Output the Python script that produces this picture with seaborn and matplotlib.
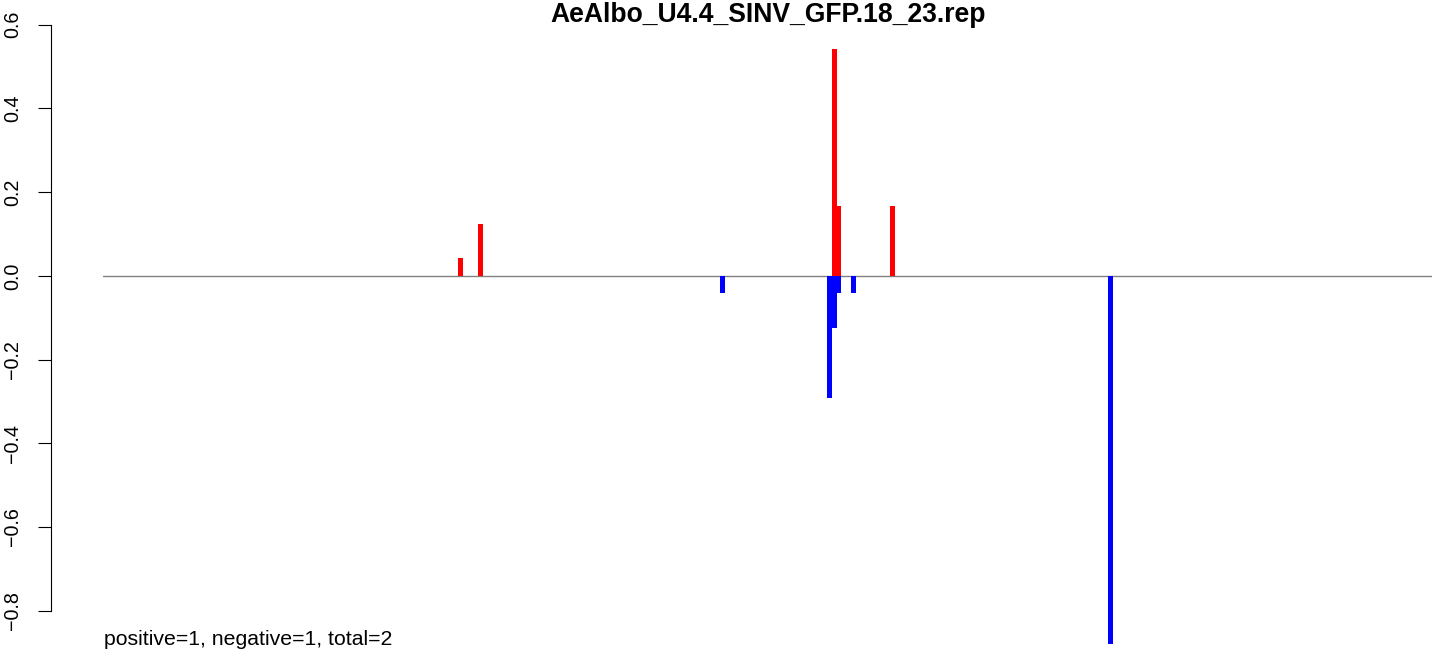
import matplotlib
matplotlib.use("Agg")
import matplotlib.pyplot as plt
import seaborn as sns
import pandas as pd

# ---- data ----
title = "AeAlbo_U4.4_SINV_GFP.18_23.rep"
pos_positions = [73, 77, 150, 151, 162]
pos_values = [0.0417, 0.125, 0.5417, 0.1667, 0.1667]
neg_positions = [127, 149, 150, 151, 154, 207]
neg_values = [-0.0417, -0.2917, -0.125, -0.0417, -0.0417, -0.88]
y_ticks = [-0.8, -0.6, -0.4, -0.2, 0.0, 0.2, 0.4, 0.6]
footer = "positive=1, negative=1, total=2"
x_limits = (-0.68, 273.3)
y_limits = (-0.9, 0.6)

sns.set_style("white")
plt.rcParams["font.family"] = ["Liberation Sans", "DejaVu Sans"]
plt.rcParams["text.color"] = "black"
plt.rcParams["ytick.color"] = "black"
plt.rcParams["ytick.labelcolor"] = "black"

W, H = 1444, 656
fig = plt.figure(figsize=(W / 100, H / 100), dpi=100)
left_px, right_px = 103.3, 1432.3
top_px, bot_px = 24.7, 652.5
ax = fig.add_axes([left_px / W, (H - bot_px) / H,
                   (right_px - left_px) / W, (bot_px - top_px) / H])

pos_df = pd.DataFrame({"x": pos_positions, "y": pos_values})
neg_df = pd.DataFrame({"x": neg_positions, "y": neg_values})

sns.barplot(data=pos_df, x="x", y="y", native_scale=True, width=1.0,
            color="#ff0000", saturation=1, errorbar=None, linewidth=0, ax=ax)
sns.barplot(data=neg_df, x="x", y="y", native_scale=True, width=1.0,
            color="#0000ff", saturation=1, errorbar=None, linewidth=0, ax=ax)

ax.axhline(0, color="#808080", lw=1.0, zorder=0.5)

ax.set_xlim(*x_limits)
ax.set_ylim(*y_limits)
ax.set_xlabel("")
ax.set_ylabel("")
ax.set_xticks([])

for s in ["top", "right", "bottom"]:
    ax.spines[s].set_visible(False)
ax.spines["left"].set_position(("outward", 52.6 * 0.72))
ax.spines["left"].set_bounds(-0.8, 0.6)
ax.spines["left"].set_linewidth(0.8)
ax.spines["left"].set_color("black")
ax.tick_params(axis="y", left=True, length=13.4 * 0.72, width=0.8,
               pad=11, colors="black", direction="out",
               labelsize=14.2, labelrotation=90)

ax.set_yticks(y_ticks)
ax.set_yticklabels([f"{v:.1f}".replace("-", "\u2212") for v in y_ticks])
for lab in ax.get_yticklabels():
    lab.set_rotation(90)
    lab.set_va("center")
    lab.set_fontsize(14.2)
    lab.set_color("black")
ax.patch.set_alpha(0)

fig.text((left_px + right_px) / 2 / W, 1 - 21.7 / H, title, ha="center",
         va="baseline", fontsize=19.1, fontweight="bold", color="black")
fig.text(104 / W, 1 - 645 / H, footer, ha="left", va="baseline",
         fontsize=15.3, color="black")

fig.savefig("out.png", dpi=100)
